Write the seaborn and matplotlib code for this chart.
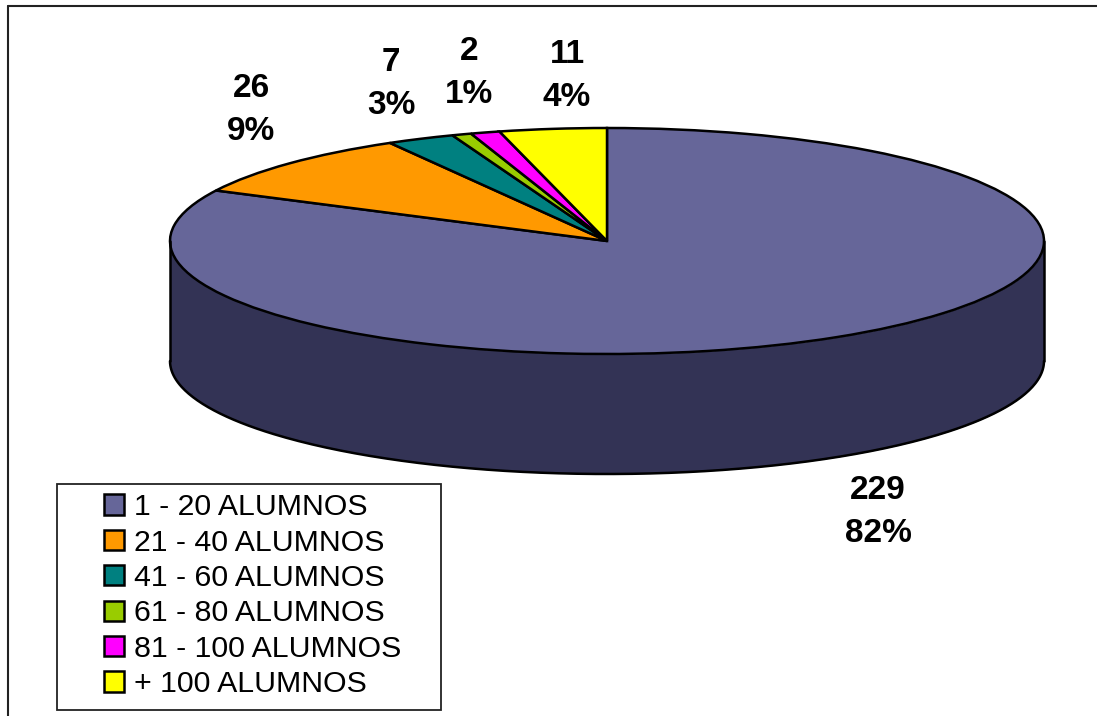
import numpy as np
import matplotlib
matplotlib.use('Agg')
import matplotlib.pyplot as plt
from matplotlib.patches import Rectangle
import seaborn as sns

categories = ['1 - 20 ALUMNOS', '21 - 40 ALUMNOS', '41 - 60 ALUMNOS',
              '61 - 80 ALUMNOS', '81 - 100 ALUMNOS', '+ 100 ALUMNOS']
values = [229, 26, 7, 2, 3, 11]
colors = ['#666699', '#FF9900', '#008080', '#99CC00', '#FF00FF', '#FFFF00']
side_color = '#333355'

# labels in the picture, the magenta slice has none
labels = ['229\n82%', '26\n9%', '7\n3%', '2\n1%', '11\n4%']
label_pos = [(878, 512), (251, 110), (391, 84), (469, 73), (567, 76)]

W, H = 1097, 716
CX, CY, RX, RY, DEPTH = 607, 241, 437, 113, 120

sns.set_theme(style='white')
plt.rcParams['font.family'] = ['Liberation Sans', 'DejaVu Sans']

fig = plt.figure(figsize=(W / 100, H / 100), dpi=100)
ax = fig.add_axes([(CX - RX) / W, 1 - (CY + RY) / H, 2 * RX / W, 2 * RY / H])

# side wall of the disc
t = np.linspace(np.pi, 2 * np.pi, 300)
d = DEPTH / RY
ax.fill_between(np.cos(t), np.sin(t), np.sin(t) - d, color=side_color, lw=0, clip_on=False)
ax.plot(np.cos(t), np.sin(t) - d, color='black', lw=1.8, clip_on=False)
ax.plot([-1, -1], [0, -d], color='black', lw=1.8, clip_on=False)
ax.plot([1, 1], [0, -d], color='black', lw=1.8, clip_on=False)

wedges, _ = ax.pie(values, colors=sns.color_palette(colors), startangle=90, counterclock=False,
                   wedgeprops={'edgecolor': 'black', 'linewidth': 1.8, 'clip_on': False})
ax.set_aspect('auto')
ax.set_xlim(-1, 1)
ax.set_ylim(-1, 1)

for txt, (px, py) in zip(labels, label_pos):
    fig.text(px / W, 1 - py / H, txt, ha='center', va='center', fontsize=24,
             fontweight='bold', color='black', linespacing=1.47)

# outer border, only top and left show
fig.add_artist(plt.Line2D([8 / W, 8 / W], [0, 1 - 6 / H], color='#222222', lw=1.5))
fig.add_artist(plt.Line2D([8 / W, 1], [1 - 6 / H, 1 - 6 / H], color='#222222', lw=1.5))

# legend box
fig.add_artist(Rectangle((57 / W, 1 - 710 / H), 384 / W, 226 / H, transform=fig.transFigure,
                         fc='white', ec='#222222', lw=1.3))
leg = fig.legend(wedges, categories, loc='upper left', bbox_to_anchor=(95 / W, 1 - 484 / H),
                 frameon=False, fontsize=21.8, labelcolor='black', handlelength=0.65, handleheight=0.65,
                 handletextpad=0.35, labelspacing=0.245, borderaxespad=0, borderpad=0.3)
for h in leg.legend_handles:
    h.set_edgecolor('black')
    h.set_linewidth(1.8)
leg.set_zorder(10)

fig.savefig('out.png', dpi=100)
